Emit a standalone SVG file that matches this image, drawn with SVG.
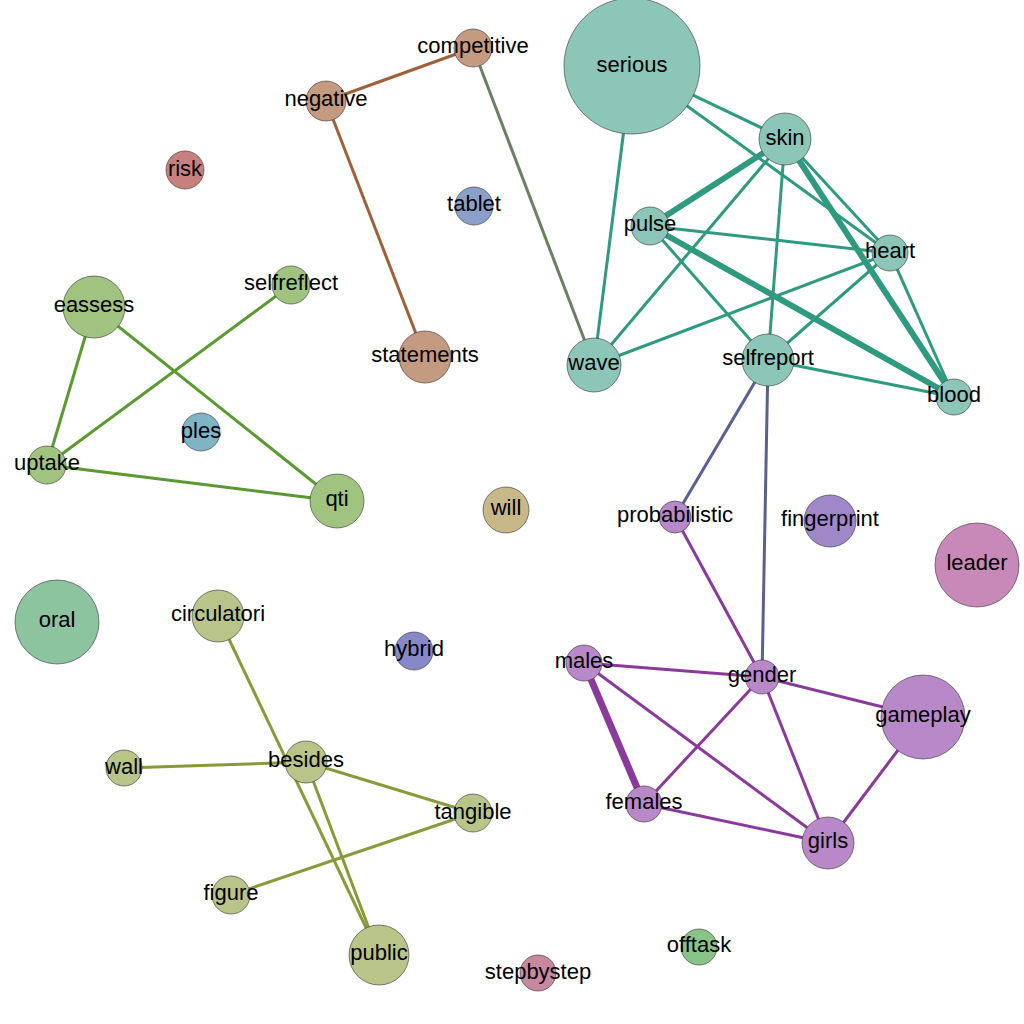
<svg xmlns="http://www.w3.org/2000/svg" width="1024" height="1024" viewBox="0 0 1024 1024">
<style>
text{font-family:"Liberation Sans",Arial,sans-serif;font-size:22px;fill:#000;text-anchor:middle;dominant-baseline:central}
circle{stroke:#333;stroke-width:0.6}
.t{stroke:#2e9a80}.b{stroke:#a0603a}.p{stroke:#8a3a9a}.g{stroke:#5a9a30}.o{stroke:#8a9a3a}
line{stroke-width:3}
</style>
<rect width="1024" height="1024" fill="#fff"/>
<g id="connectors">
<line class="t" x1="632" y1="66" x2="785" y2="139"/>
<line class="t" x1="632" y1="66" x2="890" y2="253"/>
<line class="t" x1="632" y1="66" x2="594" y2="365"/>
<line class="t" x1="785" y1="139" x2="650" y2="226" style="stroke-width:6"/>
<line class="t" x1="785" y1="139" x2="890" y2="253"/>
<line class="t" x1="785" y1="139" x2="954" y2="397" style="stroke-width:6"/>
<line class="t" x1="785" y1="139" x2="594" y2="365"/>
<line class="t" x1="785" y1="139" x2="768" y2="360"/>
<line class="t" x1="650" y1="226" x2="890" y2="253"/>
<line class="t" x1="650" y1="226" x2="954" y2="397" style="stroke-width:6"/>
<line class="t" x1="650" y1="226" x2="768" y2="360"/>
<line class="t" x1="890" y1="253" x2="594" y2="365"/>
<line class="t" x1="890" y1="253" x2="768" y2="360"/>
<line class="t" x1="890" y1="253" x2="954" y2="397"/>
<line class="t" x1="768" y1="360" x2="954" y2="397"/>
<line class="b" x1="473" y1="48" x2="326" y2="101"/>
<line class="b" x1="326" y1="101" x2="425" y2="357"/>
<line x1="473" y1="48" x2="594" y2="365" style="stroke:#6a8060"/>
<line x1="768" y1="360" x2="675" y2="517" style="stroke:#5a6090"/>
<line x1="768" y1="360" x2="762" y2="677" style="stroke:#5a6090"/>
<line class="p" x1="675" y1="517" x2="762" y2="677"/>
<line class="p" x1="584" y1="663" x2="762" y2="677"/>
<line class="p" x1="584" y1="663" x2="644" y2="804" style="stroke-width:7"/>
<line class="p" x1="584" y1="663" x2="828" y2="843"/>
<line class="p" x1="762" y1="677" x2="644" y2="804"/>
<line class="p" x1="762" y1="677" x2="923" y2="717"/>
<line class="p" x1="762" y1="677" x2="828" y2="843"/>
<line class="p" x1="644" y1="804" x2="828" y2="843"/>
<line class="p" x1="923" y1="717" x2="828" y2="843"/>
<line class="g" x1="94" y1="307" x2="47" y2="465"/>
<line class="g" x1="94" y1="307" x2="337" y2="501"/>
<line class="g" x1="47" y1="465" x2="337" y2="501"/>
<line class="g" x1="47" y1="465" x2="291" y2="285"/>
<line class="o" x1="218" y1="616" x2="379" y2="955"/>
<line class="o" x1="306" y1="762" x2="379" y2="955"/>
<line class="o" x1="124" y1="768" x2="306" y2="762"/>
<line class="o" x1="306" y1="762" x2="473" y2="813"/>
<line class="o" x1="473" y1="813" x2="231" y2="895"/>
</g>
<g id="serious"><circle cx="632" cy="66" r="68" fill="#8cc6b8"/><text x="632" y="64">serious</text></g>
<g id="skin"><circle cx="785" cy="139" r="26" fill="#8cc6b8"/><text x="785" y="137">skin</text></g>
<g id="pulse"><circle cx="650" cy="226" r="19" fill="#8cc6b8"/><text x="650" y="223">pulse</text></g>
<g id="heart"><circle cx="890" cy="253" r="18" fill="#8cc6b8"/><text x="890" y="250">heart</text></g>
<g id="blood"><circle cx="954" cy="397" r="18" fill="#8cc6b8"/><text x="954" y="394">blood</text></g>
<g id="wave"><circle cx="594" cy="365" r="27" fill="#8cc6b8"/><text x="594" y="362">wave</text></g>
<g id="selfreport"><circle cx="768" cy="360" r="26" fill="#8cc6b8"/><text x="768" y="357">selfreport</text></g>
<g id="competitive"><circle cx="473" cy="48" r="19" fill="#c49a80"/><text x="473" y="45">competitive</text></g>
<g id="negative"><circle cx="326" cy="101" r="20" fill="#c49a80"/><text x="326" y="98">negative</text></g>
<g id="statements"><circle cx="425" cy="357" r="26" fill="#c49a80"/><text x="425" y="354">statements</text></g>
<g id="risk"><circle cx="185" cy="170" r="19" fill="#c8807e"/><text x="185" y="168">risk</text></g>
<g id="tablet"><circle cx="474" cy="206" r="19" fill="#8aa0c8"/><text x="474" y="203">tablet</text></g>
<g id="selfreflect"><circle cx="291" cy="285" r="19" fill="#a0c480"/><text x="291" y="282">selfreflect</text></g>
<g id="eassess"><circle cx="94" cy="307" r="31" fill="#a0c480"/><text x="94" y="304">eassess</text></g>
<g id="uptake"><circle cx="47" cy="465" r="19" fill="#a0c480"/><text x="47" y="462">uptake</text></g>
<g id="qti"><circle cx="337" cy="501" r="27" fill="#a0c480"/><text x="337" y="498">qti</text></g>
<g id="ples"><circle cx="201" cy="432" r="19" fill="#80b4c4"/><text x="201" y="430">ples</text></g>
<g id="will"><circle cx="506" cy="510" r="23" fill="#c8b888"/><text x="506" y="507">will</text></g>
<g id="probabilistic"><circle cx="675" cy="517" r="16" fill="#b888c8"/><text x="675" y="514">probabilistic</text></g>
<g id="fingerprint"><circle cx="830" cy="521" r="26" fill="#a088c8"/><text x="830" y="518">fingerprint</text></g>
<g id="leader"><circle cx="977" cy="565" r="42" fill="#c888b8"/><text x="977" y="562">leader</text></g>
<g id="oral"><circle cx="57" cy="622" r="42" fill="#8cc4a0"/><text x="57" y="619">oral</text></g>
<g id="circulatori"><circle cx="218" cy="616" r="26" fill="#b8c488"/><text x="218" y="613">circulatori</text></g>
<g id="hybrid"><circle cx="414" cy="651" r="19" fill="#8888c8"/><text x="414" y="648">hybrid</text></g>
<g id="males"><circle cx="584" cy="663" r="18" fill="#b888c8"/><text x="584" y="660">males</text></g>
<g id="gender"><circle cx="762" cy="677" r="17" fill="#b888c8"/><text x="762" y="674">gender</text></g>
<g id="gameplay"><circle cx="923" cy="717" r="42" fill="#b888c8"/><text x="923" y="714">gameplay</text></g>
<g id="females"><circle cx="644" cy="804" r="18" fill="#b888c8"/><text x="644" y="801">females</text></g>
<g id="girls"><circle cx="828" cy="843" r="26" fill="#b888c8"/><text x="828" y="840">girls</text></g>
<g id="wall"><circle cx="124" cy="768" r="18" fill="#b8c488"/><text x="124" y="766">wall</text></g>
<g id="besides"><circle cx="306" cy="762" r="21" fill="#b8c488"/><text x="306" y="759">besides</text></g>
<g id="tangible"><circle cx="473" cy="813" r="19" fill="#b8c488"/><text x="473" y="811">tangible</text></g>
<g id="figure"><circle cx="231" cy="895" r="19" fill="#b8c488"/><text x="231" y="892">figure</text></g>
<g id="public"><circle cx="379" cy="955" r="30" fill="#b8c488"/><text x="379" y="952">public</text></g>
<g id="offtask"><circle cx="699" cy="947" r="18" fill="#88c488"/><text x="699" y="944">offtask</text></g>
<g id="stepbystep"><circle cx="538" cy="973" r="18" fill="#c888a0"/><text x="538" y="971">stepbystep</text></g>
</svg>
